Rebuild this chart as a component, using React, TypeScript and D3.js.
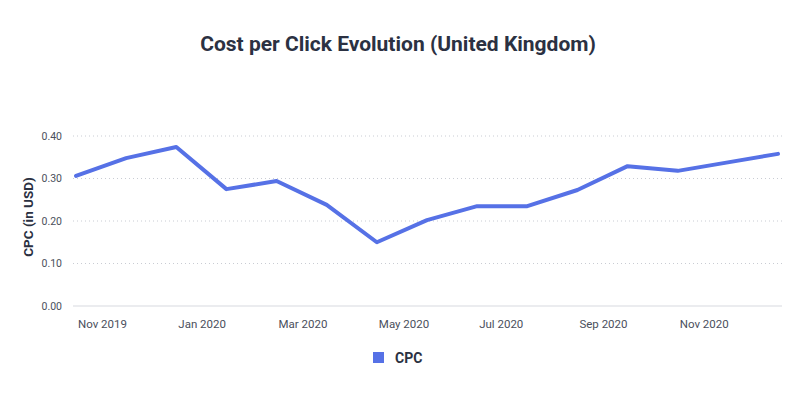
import React, { useRef, useEffect } from "react";
import * as d3 from "d3";

const months = [
  "Nov 2019", "Dec 2019", "Jan 2020", "Feb 2020", "Mar 2020", "Apr 2020",
  "May 2020", "Jun 2020", "Jul 2020", "Aug 2020", "Sep 2020", "Oct 2020",
  "Nov 2020", "Dec 2020", "Jan 2021",
];
const cpc = [
  0.306, 0.348, 0.374, 0.275, 0.294, 0.238, 0.150, 0.202,
  0.235, 0.235, 0.273, 0.329, 0.318, 0.338, 0.358,
];
const yTicks = [0, 0.1, 0.2, 0.3, 0.4];
const xLabels = ["Nov 2019", "Jan 2020", "Mar 2020", "May 2020", "Jul 2020", "Sep 2020", "Nov 2020"];

const W = 804;
const H = 398;
const FONT = "Roboto, 'Noto Sans', sans-serif";
const LINE = "#5671e6";

export default function App() {
  const ref = useRef<SVGSVGElement>(null);

  useEffect(() => {
    const svg = d3.select(ref.current);
    svg.selectAll("*").remove();

    // plot area
    const left = 73;
    const right = 782;
    const top = 136;
    const bottom = 306;

    const x = d3.scalePoint<string>().domain(months).range([76, 778]);
    const y = d3.scaleLinear().domain([0, 0.4]).range([bottom, top]);

    svg.append("rect").attr("width", W).attr("height", H).attr("fill", "#fff");

    // title
    svg.append("text")
      .attr("x", 398)
      .attr("y", 51)
      .attr("text-anchor", "middle")
      .attr("font-family", FONT)
      .attr("font-weight", 700)
      .attr("font-size", 21)
      .attr("fill", "#2b3142")
      .text("Cost per Click Evolution (United Kingdom)");

    // grid
    const grid = svg.append("g");
    yTicks.forEach((t) => {
      grid.append("line")
        .attr("x1", left)
        .attr("x2", right)
        .attr("y1", y(t))
        .attr("y2", y(t))
        .attr("stroke", t === 0 ? "#d8dae0" : "#c9ccd3")
        .attr("stroke-width", t === 0 ? 1.2 : 1)
        .attr("stroke-dasharray", t === 0 ? null : "1,3");
      grid.append("text")
        .attr("x", 62)
        .attr("y", y(t) + 3.5)
        .attr("text-anchor", "end")
        .attr("font-family", FONT)
        .attr("font-size", 10.5)
        .attr("fill", "#4a4f5c")
        .text(t.toFixed(2));
    });

    // x labels
    xLabels.forEach((m) => {
      svg.append("text")
        .attr("x", (x(m) as number) + 2)
        .attr("y", 327.5)
        .attr("font-family", FONT)
        .attr("font-size", 11.5)
        .attr("fill", "#4a4f5c")
        .text(m);
    });

    // y title
    svg.append("text")
      .attr("transform", `translate(32.5,217) rotate(-90)`)
      .attr("text-anchor", "middle")
      .attr("font-family", FONT)
      .attr("font-weight", 700)
      .attr("font-size", 13.5)
      .attr("fill", "#2b3142")
      .text("CPC (in USD)");

    // line
    const line = d3.line<number>()
      .x((_, i) => x(months[i]) as number)
      .y((d) => y(d));

    svg.append("path")
      .datum(cpc)
      .attr("d", line)
      .attr("fill", "none")
      .attr("stroke", LINE)
      .attr("stroke-width", 4)
      .attr("stroke-linejoin", "round")
      .attr("stroke-linecap", "round");

    // legend
    svg.append("rect")
      .attr("x", 373)
      .attr("y", 352)
      .attr("width", 11)
      .attr("height", 11)
      .attr("fill", LINE);
    svg.append("text")
      .attr("x", 395)
      .attr("y", 363)
      .attr("font-family", FONT)
      .attr("font-weight", 700)
      .attr("font-size", 14)
      .attr("fill", "#2b3142")
      .text("CPC");
  }, []);

  return (
    <svg
      ref={ref}
      width={W}
      height={H}
      style={{ position: "absolute", left: 0, top: 0, display: "block" }}
    />
  );
}
